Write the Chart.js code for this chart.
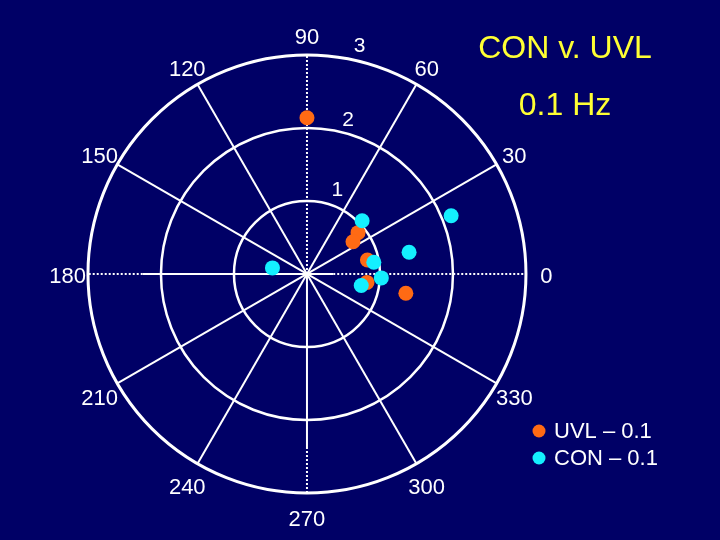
<!DOCTYPE html>
<html>
<head>
<meta charset="utf-8">
<script src="https://cdn.jsdelivr.net/npm/chart.js@4.4.0/dist/chart.umd.min.js"></script>
<style>
  html, body { margin: 0; padding: 0; background: #000066; }
  #wrap { position: relative; width: 720px; height: 540px; }
</style>
</head>
<body>
<div id="wrap"><canvas id="polarChart" width="720" height="540"></canvas></div>
<script>
// polar data: angle in degrees, magnitude
const uvlAngle = [90, 39, 35, 13, 352, 349];
const uvlMag = [2.14, 0.90, 0.77, 0.85, 0.83, 1.38];
const conAngle = [44, 22, 12, 170, 10, 357, 348];
const conMag = [1.05, 2.13, 1.43, 0.48, 0.93, 1.02, 0.76];

const ringValues = [1, 2, 3];
const angleTicks = [0, 30, 60, 90, 120, 150, 180, 210, 240, 270, 300, 330];
const seriesNames = ['UVL \u2013 0.1', 'CON \u2013 0.1'];
const titleLines = ['CON v. UVL', '0.1 Hz'];

const FONT = '"Liberation Sans", Arial, sans-serif';
const ORANGE = '#ff6a14';
const CYAN = '#14f0ff';

function toXY(angles, mags) {
    return angles.map((a, i) => {
        const t = a * Math.PI / 180;
        return { x: mags[i] * Math.cos(t), y: mags[i] * Math.sin(t) };
    });
}

// grid, labels, title and legend
const polarGrid = {
    id: 'polarGrid',
    beforeDraw(chart) {
        const ctx = chart.ctx;
        ctx.save();
        ctx.fillStyle = '#000066';
        ctx.fillRect(0, 0, chart.width, chart.height);
        ctx.restore();
    },
    beforeDatasetsDraw(chart) {
        const ctx = chart.ctx;
        const xs = chart.scales.x;
        const ys = chart.scales.y;
        const cx = xs.getPixelForValue(0);
        const cy = ys.getPixelForValue(0);
        const unit = xs.getPixelForValue(1) - cx;
        const rMax = ringValues[ringValues.length - 1];
        const px = (r, a) => cx + r * unit * Math.cos(a * Math.PI / 180);
        const py = (r, a) => cy - r * unit * Math.sin(a * Math.PI / 180);

        ctx.save();
        ctx.strokeStyle = '#ffffff';

        // rings
        ringValues.forEach(r => {
            ctx.lineWidth = r === rMax ? 3 : 2.5;
            ctx.beginPath();
            ctx.arc(cx, cy, r * unit, 0, Math.PI * 2);
            ctx.stroke();
        });

        // spokes
        const seg = (a, r0, r1, dotted) => {
            ctx.setLineDash(dotted ? [2, 2] : []);
            ctx.lineWidth = 2;
            ctx.beginPath();
            ctx.moveTo(px(r0, a), py(r0, a));
            ctx.lineTo(px(r1, a), py(r1, a));
            ctx.stroke();
        };
        angleTicks.forEach(a => {
            if (a % 90 !== 0) seg(a, 0, rMax, false);
        });
        seg(0, 0, 0.36, false); seg(0, 0.36, rMax, true);
        seg(180, 0, 2.25, false); seg(180, 2.25, rMax, true);
        seg(90, 0, rMax, true);
        seg(270, 0, 2.37, false); seg(270, 2.37, rMax, true);
        ctx.setLineDash([]);

        // angle labels
        ctx.fillStyle = '#ffffff';
        ctx.font = '22px ' + FONT;
        ctx.textAlign = 'center';
        ctx.textBaseline = 'middle';
        angleTicks.forEach(a => {
            const s = Math.sin(a * Math.PI / 180);
            const dy = 3 + (s < 0 ? -s * 4 : 0);
            ctx.fillText(String(a), px(3.28, a), py(3.28, a) + dy);
        });

        // radial labels
        const radialPos = [[1.22, 70], [2.18, 75], [3.2, 77]];
        ctx.font = '21px ' + FONT;
        ringValues.forEach((r, i) => {
            const [rr, aa] = radialPos[i];
            ctx.fillText(String(r), px(rr, aa), py(rr, aa));
        });
        ctx.restore();
    },
    afterDraw(chart) {
        const ctx = chart.ctx;
        ctx.save();
        // title
        ctx.fillStyle = '#ffff33';
        ctx.font = '32px ' + FONT;
        ctx.textAlign = 'center';
        ctx.textBaseline = 'alphabetic';
        ctx.fillText(titleLines[0], 565, 58);
        ctx.fillText(titleLines[1], 565, 115);

        // legend
        const colors = [ORANGE, CYAN];
        ctx.font = '22px ' + FONT;
        ctx.textAlign = 'left';
        ctx.textBaseline = 'middle';
        seriesNames.forEach((name, i) => {
            const y = 431 + i * 27;
            ctx.fillStyle = colors[i];
            ctx.beginPath();
            ctx.arc(539, y, 6.5, 0, Math.PI * 2);
            ctx.fill();
            ctx.fillStyle = '#ffffff';
            ctx.fillText(name, 554, y + 1);
        });
        ctx.restore();
    }
};

const chart = new Chart(document.getElementById('polarChart'), {
    type: 'scatter',
    data: {
        datasets: [{
            label: seriesNames[0],
            data: toXY(uvlAngle, uvlMag),
            backgroundColor: ORANGE,
            borderColor: ORANGE,
            pointRadius: 7.5,
            pointBorderWidth: 0,
            order: 2
        }, {
            label: seriesNames[1],
            data: toXY(conAngle, conMag),
            backgroundColor: CYAN,
            borderColor: CYAN,
            pointRadius: 7.5,
            pointBorderWidth: 0,
            order: 1
        }]
    },
    options: {
        responsive: false,
        animation: false,
        layout: { padding: 0, autoPadding: false },
        plugins: {
            legend: { display: false },
            tooltip: { enabled: false }
        },
        scales: {
            x: { type: 'linear', display: false, min: -4.205, max: 5.658 },
            y: { type: 'linear', display: false, min: -3.644, max: 3.753 }
        }
    },
    plugins: [polarGrid]
});
</script>
</body>
</html>
